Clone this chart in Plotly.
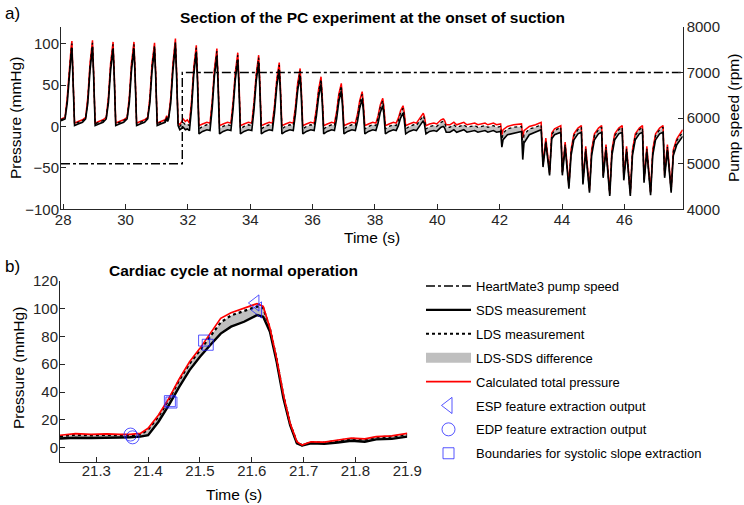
import plotly.graph_objects as go

# ---------------- Panel a: section of the PC experiment ----------------
t_a = [
    27.93,
    28.06, 28.13, 28.20, 28.26, 28.28, 28.315, 28.365, 28.48, 28.62,
    28.72, 28.79, 28.86, 28.92, 28.94, 28.975, 29.025, 29.14, 29.28,
    29.38, 29.45, 29.52, 29.58, 29.60, 29.635, 29.685, 29.80, 29.94,
    30.05, 30.12, 30.19, 30.25, 30.27, 30.305, 30.355, 30.47, 30.61,
    30.71, 30.78, 30.85, 30.91, 30.93, 30.965, 31.015, 31.13, 31.27, 31.32, 31.35,
    31.38, 31.45, 31.52, 31.58, 31.60, 31.635, 31.685,
    31.74, 31.80, 31.85, 31.92, 31.98,
    32.05, 32.12, 32.19, 32.25, 32.27, 32.305, 32.355, 32.47, 32.61,
    32.71, 32.78, 32.85, 32.91, 32.93, 32.965, 33.015, 33.13, 33.27,
    33.38, 33.45, 33.52, 33.58, 33.60, 33.635, 33.685, 33.80, 33.94,
    34.05, 34.12, 34.19, 34.25, 34.27, 34.305, 34.355, 34.47, 34.61,
    34.71, 34.78, 34.85, 34.91, 34.93, 34.965, 35.015, 35.13, 35.27,
    35.38, 35.45, 35.52, 35.58, 35.60, 35.635, 35.685, 35.80, 35.94,
    36.05, 36.12, 36.19, 36.25, 36.27, 36.305, 36.355, 36.47, 36.61,
    36.70, 36.77, 36.84, 36.90, 36.92, 36.955, 37.005, 37.12, 37.26,
    37.37, 37.44, 37.51, 37.57, 37.59, 37.625, 37.675, 37.79, 37.93,
    38.03, 38.10, 38.17, 38.23, 38.25, 38.285, 38.335, 38.45, 38.59,
    38.68, 38.75, 38.82, 38.88, 38.90, 38.935, 38.985, 39.10, 39.24,
    39.33, 39.40, 39.47, 39.53, 39.55, 39.585, 39.635, 39.75, 39.89,
    39.98, 40.05, 40.12, 40.18, 40.20, 40.235, 40.285, 40.40,
    40.53, 40.62, 40.85, 40.95, 41.20, 41.30, 41.53, 41.62, 41.80, 41.90, 42.03,
    42.07, 42.11, 42.25, 42.45, 42.70, 42.74, 42.78, 42.95, 43.15, 43.33,
    43.39, 43.48, 43.60, 43.67, 43.76, 43.87,
    43.96, 44.01, 44.10, 44.22, 44.29, 44.38, 44.51,
    44.62, 44.67, 44.76, 44.88, 44.95, 45.04, 45.17,
    45.27, 45.32, 45.41, 45.53, 45.60, 45.69, 45.82,
    45.93, 45.98, 46.07, 46.19, 46.26, 46.35, 46.48,
    46.58, 46.63, 46.72, 46.84, 46.91, 47.00, 47.13,
    47.24, 47.29, 47.38, 47.50, 47.57, 47.68, 47.87,
]
sds_a = [
    7,
    9, 28, 67, 89, 95, 62, 1, 3, 5,
    9, 28, 67, 89, 96, 62, 1, 3, 5,
    9, 28, 67, 89, 94, 62, 1, 3, 5,
    9, 28, 67, 89, 94, 62, 1, 3, 5,
    9, 28, 67, 88, 93, 62, 1, 3, 5, 10, 6,
    9, 28, 67, 90, 98, 63, 1,
    -4, -2, -1, -4, -3,
    -5, 23, 63, 84, 89, 56, -9, -6, -4,
    -5, 22, 60, 81, 85, 53, -9, -6, -4,
    -5, 21, 56, 76, 80, 50, -9, -6, -4,
    -5, 20, 54, 73, 77, 48, -9, -6, -4,
    -5, 17, 48, 64, 68, 42, -9, -6, -4,
    -5, 15, 43, 58, 61, 38, -9, -6, -4,
    -5, 12, 35, 48, 51, 31, -9, -6, -4,
    -5, 9, 30, 41, 43, 26, -9, -6, -4,
    -5, 6, 22, 31, 33, 20, -9, -6, -4,
    -5, 4, 17, 24, 25, 15, -9, -6, -4,
    -5, 1, 10, 15, 16, 9, -9, -6, -4,
    -5, -1, 4, 6, 7, 3, -9, -6, -5,
    -6, -3, -1, 0, 0, -2, -7, -7,
    -4, -7, -4, -7, -5, -7, -5, -7, -5, -7, -6,
    -25, -16, -10, -8, -6, -40, -20, -10, -7, -4,
    -49, -20, -59, -15, -10, -8,
    -7, -59, -25, -75, -35, -16, -9,
    -7, -70, -30, -80, -35, -16, -9,
    -7, -62, -28, -84, -35, -16, -9,
    -7, -65, -30, -84, -35, -16, -9,
    -7, -68, -30, -83, -35, -16, -9,
    -7, -62, -28, -80, -35, -22, -12,
]
lds_a = [
    8,
    10, 32, 73, 95, 100, 66, 3, 5, 7,
    10, 32, 73, 95, 101, 66, 3, 5, 7,
    10, 32, 73, 95, 99, 66, 3, 5, 7,
    10, 32, 73, 95, 99, 66, 3, 5, 7,
    10, 32, 73, 94, 98, 66, 3, 5, 7, 12, 8,
    10, 32, 73, 96, 103, 68, 3,
    0, 3, 5, 2, 3,
    1, 29, 69, 90, 95, 62, -3, 0, 2,
    1, 28, 66, 87, 91, 59, -3, 0, 2,
    1, 27, 62, 82, 86, 56, -3, 0, 2,
    1, 26, 60, 79, 83, 54, -3, 0, 2,
    1, 23, 54, 70, 74, 48, -3, 0, 2,
    1, 21, 49, 64, 67, 44, -3, 0, 2,
    1, 18, 41, 54, 57, 37, -3, 0, 2,
    1, 15, 36, 47, 49, 32, -3, 0, 2,
    1, 12, 28, 37, 39, 26, -3, 0, 2,
    1, 10, 23, 30, 31, 21, -3, 0, 2,
    1, 7, 16, 21, 22, 15, -3, 0, 2,
    1, 5, 10, 12, 13, 9, -3, 0, 1,
    0, 3, 5, 6, 6, 4, -1, -1,
    2, -1, 2, -1, 1, -1, 1, -1, 1, -1, 0,
    -16, -8, -3, -1, 0, -24, -10, -3, -1, 2,
    -47, -17, -57, -10, -5, -3,
    -1, -57, -22, -73, -30, -11, -4,
    -1, -68, -27, -78, -30, -11, -4,
    -1, -60, -25, -82, -30, -11, -4,
    -1, -63, -27, -82, -30, -11, -4,
    -1, -66, -27, -81, -30, -11, -4,
    -1, -60, -25, -78, -30, -17, -7,
]
tot_a = [
    9,
    11, 35, 76, 98, 103, 68, 4, 6, 8,
    11, 35, 76, 98, 104, 68, 4, 6, 8,
    11, 35, 76, 98, 102, 68, 4, 6, 8,
    11, 35, 76, 98, 102, 68, 4, 6, 8,
    11, 35, 76, 97, 101, 68, 4, 6, 8, 13, 9,
    11, 35, 76, 99, 106, 70, 4,
    2, 6, 9, 6, 8,
    4, 32, 72, 93, 98, 65, 1, 3, 5,
    4, 31, 69, 90, 94, 62, 1, 3, 5,
    4, 30, 65, 85, 89, 59, 1, 3, 5,
    4, 29, 63, 82, 86, 57, 1, 3, 5,
    4, 26, 57, 73, 77, 51, 1, 3, 5,
    4, 24, 52, 67, 70, 47, 1, 3, 5,
    4, 21, 44, 57, 60, 40, 1, 3, 5,
    4, 18, 39, 50, 52, 35, 1, 3, 5,
    4, 15, 31, 40, 42, 29, 1, 3, 5,
    4, 13, 26, 33, 34, 24, 1, 3, 5,
    4, 10, 19, 24, 25, 18, 1, 3, 5,
    4, 8, 13, 15, 16, 12, 1, 3, 4,
    3, 6, 8, 9, 9, 7, 2, 2,
    5, 2, 5, 2, 4, 2, 4, 2, 4, 2, 3,
    -10, -4, 0, 2, 3, -14, -5, 0, 2, 5,
    -45, -14, -55, -8, -3, -1,
    1, -55, -19, -71, -28, -9, -2,
    1, -66, -24, -76, -28, -9, -2,
    1, -58, -22, -80, -28, -9, -2,
    1, -61, -24, -80, -28, -9, -2,
    1, -64, -24, -79, -28, -9, -2,
    1, -58, -22, -76, -28, -15, -4,
]
pump_t = [27.93, 31.82, 31.82, 47.87]
pump_rpm = [5000, 5000, 7000, 7000]

# ---------------- Panel b: cardiac cycle at normal operation ----------------
t_b = [21.23, 21.26, 21.29, 21.32, 21.345, 21.365, 21.385, 21.40, 21.42, 21.44,
       21.46, 21.48, 21.50, 21.52, 21.54, 21.56, 21.585, 21.61, 21.622, 21.635,
       21.648, 21.661, 21.674, 21.687, 21.697, 21.714, 21.74, 21.766, 21.792,
       21.818, 21.84, 21.87, 21.9]
tot_b = [9.0, 10.2, 9.6, 10.0, 9.6, 9.6, 10.3, 14, 23.5, 35.5,
         49.5, 61.8, 71.4, 82, 93, 97, 100, 103.5, 101.5, 86,
         64, 38, 17.5, 4.3, 1.9, 4.3, 4.0, 5.5, 7.0,
         6.4, 8.0, 8.6, 10.3]
lds_b = [8.2, 9.4, 8.9, 9.3, 8.9, 8.9, 9.5, 13, 22.5, 34.5,
         48.5, 60.5, 70, 80, 90, 95, 98.5, 101.5, 100.5, 85.5,
         63.5, 37.5, 17, 3.9, 1.8, 3.9, 3.6, 5.0, 6.4,
         5.9, 7.4, 8.0, 9.6]
sds_b = [6.7, 7.2, 7.0, 7.5, 7.4, 7.6, 8.0, 9, 18.7, 30.7,
         43.8, 55.8, 65.4, 73.8, 82, 87, 90.5, 95.3, 94.1, 83.3,
         61.8, 35.5, 16.3, 3.2, 1.7, 3.2, 2.9, 3.8, 5.0,
         4.3, 6.0, 6.4, 8.0]
esp_t = [21.607, 21.612]
esp_p = [104, 99]
edp_t = [21.366, 21.370]
edp_p = [9.5, 7.5]
bnd_t = [21.442, 21.445, 21.508, 21.515]
bnd_p = [33.5, 32.5, 77, 74]

assert len(t_a) == len(sds_a) == len(lds_a) == len(tot_a)
assert len(t_b) == len(sds_b) == len(lds_b) == len(tot_b)

W, H = 744, 505
FONT = "Liberation Sans, Arial, Helvetica, sans-serif"
AX = "#262626"
GRAY = "#bfbfbf"
BLUE = "rgba(30,30,255,0.75)"


def px(x):
    return x / W


def py(y):
    return 1 - y / H


fig = go.Figure()

# ---- panel a traces ----
fig.add_trace(go.Scatter(x=pump_t, y=pump_rpm, xaxis="x", yaxis="y3", mode="lines",
                         line=dict(color="black", width=1.4, dash="dashdot"),
                         name="HeartMate3 pump speed", legendgroup="g1", legendrank=1))
fig.add_trace(go.Scatter(x=t_a, y=sds_a, xaxis="x", yaxis="y", mode="lines",
                         line=dict(width=0, color=GRAY), showlegend=False, hoverinfo="skip"))
fig.add_trace(go.Scatter(x=t_a, y=lds_a, xaxis="x", yaxis="y", mode="lines", fill="tonexty",
                         fillcolor=GRAY, line=dict(width=0, color=GRAY), showlegend=False,
                         hoverinfo="skip"))
fig.add_trace(go.Scatter(x=t_a, y=tot_a, xaxis="x", yaxis="y", mode="lines",
                         line=dict(color="#ff0000", width=1.5), showlegend=False))
fig.add_trace(go.Scatter(x=t_a, y=sds_a, xaxis="x", yaxis="y", mode="lines",
                         line=dict(color="black", width=1.6), showlegend=False))
fig.add_trace(go.Scatter(x=t_a, y=lds_a, xaxis="x", yaxis="y", mode="lines",
                         line=dict(color="black", width=1.3, dash="dot"), showlegend=False))

# ---- panel b traces ----
fig.add_trace(go.Scatter(x=t_b, y=sds_b, xaxis="x2", yaxis="y2", mode="lines",
                         line=dict(width=0, color=GRAY), showlegend=False, hoverinfo="skip"))
fig.add_trace(go.Scatter(x=t_b, y=lds_b, xaxis="x2", yaxis="y2", mode="lines", fill="tonexty",
                         fillcolor=GRAY, line=dict(width=0, color=GRAY), showlegend=False,
                         hoverinfo="skip"))
# legend-only sample for the grey band (no data points)
fig.add_trace(go.Scatter(x=[None], y=[None], xaxis="x2", yaxis="y2", mode="lines",
                         line=dict(color=GRAY, width=14),
                         name="LDS-SDS difference", legendgroup="g4", legendrank=4))
fig.add_trace(go.Scatter(x=t_b, y=sds_b, xaxis="x2", yaxis="y2", mode="lines",
                         line=dict(color="black", width=2.4),
                         name="SDS measurement", legendgroup="g2", legendrank=2))
fig.add_trace(go.Scatter(x=t_b, y=lds_b, xaxis="x2", yaxis="y2", mode="lines",
                         line=dict(color="black", width=2.2, dash="dot"),
                         name="LDS measurement", legendgroup="g3", legendrank=3))
fig.add_trace(go.Scatter(x=t_b, y=tot_b, xaxis="x2", yaxis="y2", mode="lines",
                         line=dict(color="#ff0000", width=1.7),
                         name="Calculated total pressure", legendgroup="g5", legendrank=5))
fig.add_trace(go.Scatter(x=esp_t, y=esp_p, xaxis="x2", yaxis="y2", mode="markers",
                         marker=dict(symbol="triangle-left-open", size=14, color=BLUE,
                                     line=dict(width=1, color=BLUE)),
                         name="ESP feature extraction output", legendgroup="g6", legendrank=6))
fig.add_trace(go.Scatter(x=edp_t, y=edp_p, xaxis="x2", yaxis="y2", mode="markers",
                         marker=dict(symbol="circle-open", size=13, color=BLUE,
                                     line=dict(width=1, color=BLUE)),
                         name="EDP feature extraction output", legendgroup="g7", legendrank=7))
fig.add_trace(go.Scatter(x=bnd_t, y=bnd_p, xaxis="x2", yaxis="y2", mode="markers",
                         marker=dict(symbol="square-open", size=11, color=BLUE,
                                     line=dict(width=1, color=BLUE)),
                         name="Boundaries for systolic slope extraction", legendgroup="g8",
                         legendrank=8))

axis_common = dict(showgrid=False, zeroline=False, showline=True, linecolor=AX, linewidth=1,
                   ticks="inside", ticklen=5, tickwidth=1, tickcolor=AX, automargin=False,
                   tickfont=dict(family=FONT, size=15, color=AX), mirror=False)

fig.update_layout(
    template="none",
    width=W, height=H,
    margin=dict(l=0, r=0, t=0, b=0, pad=0, autoexpand=False),
    paper_bgcolor="white", plot_bgcolor="white",
    font=dict(family=FONT, color=AX),
    xaxis=dict(domain=[px(61), px(682.7)], range=[27.93, 47.87], anchor="y",
               tickvals=[28, 30, 32, 34, 36, 38, 40, 42, 44, 46], ticklabelstandoff=-3,
               **axis_common),
    yaxis=dict(domain=[py(209.3), py(27.0)], range=[-100, 120], anchor="x",
               tickvals=[-100, -50, 0, 50, 100], ticklabelstandoff=-2, **axis_common),
    yaxis3=dict(overlaying="y", side="right", anchor="x", range=[4000, 8000],
                tickvals=[4000, 5000, 6000, 7000, 8000], **axis_common),
    xaxis2=dict(domain=[px(60), px(407.3)], range=[21.23, 21.9], anchor="y2",
                tickvals=[21.3, 21.4, 21.5, 21.6, 21.7, 21.8, 21.9],
                ticktext=["21.3", "21.4", "21.5", "21.6", "21.7", "21.8", "21.9"],
                ticklabelstandoff=-5, **axis_common),
    yaxis2=dict(domain=[py(461.7), py(280.7)], range=[-10, 120], anchor="x2",
                tickvals=[0, 20, 40, 60, 80, 100, 120], ticklabelstandoff=-2, **axis_common),
    legend=dict(x=px(421), y=py(271), xanchor="left", yanchor="top",
                font=dict(family=FONT, size=13, color="black"),
                bgcolor="rgba(0,0,0,0)", borderwidth=0,
                traceorder="grouped", tracegroupgap=4, itemwidth=45),
    showlegend=True,
)

ann = []


def text(x, y, s, size=15, bold=False, angle=0, xanchor="center"):
    ann.append(dict(x=px(x), y=py(y), xref="paper", yref="paper",
                    text=("<b>%s</b>" % s) if bold else s,
                    showarrow=False, textangle=angle, xanchor=xanchor, yanchor="middle",
                    font=dict(family=FONT, size=size, color="black")))


text(3, 13, "a)", size=17, xanchor="left")
text(3, 266, "b)", size=17, xanchor="left")
text(372, 17, "Section of the PC experiment at the onset of suction", size=15.5, bold=True)
text(233.5, 270, "Cardiac cycle at normal operation", size=15.5, bold=True)
text(372, 237, "Time (s)", size=15.5)
text(233.5, 494, "Time (s)", size=15.5)
text(16, 118, "Pressure (mmHg)", size=15.5, angle=-90)
text(18, 368, "Pressure (mmHg)", size=15.5, angle=-90)
text(734, 118, "Pump speed (rpm)", size=15.5, angle=-90)
fig.update_layout(annotations=ann)

fig.write_html("out.html")
